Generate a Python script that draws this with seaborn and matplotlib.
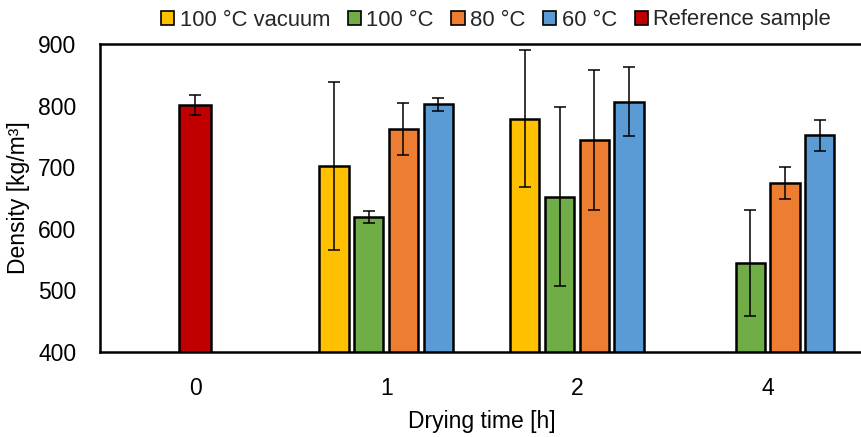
import matplotlib
matplotlib.use("Agg")
import matplotlib.pyplot as plt
from matplotlib.patches import Patch
from matplotlib import font_manager
import seaborn as sns
import pandas as pd
import numpy as np

# ---- data ----
times = ["0", "1", "2", "4"]
series = ["100 °C vacuum", "100 °C", "80 °C", "60 °C"]
series_colors = ["#FFC000", "#70AD47", "#ED7D31", "#5B9BD5"]

vacuum_100_mean = [np.nan, 702, 779, np.nan]
vacuum_100_err = [np.nan, 137, 111, np.nan]
temp_100_mean = [np.nan, 619, 652, 545]
temp_100_err = [np.nan, 10, 145, 86]
temp_80_mean = [np.nan, 762, 744, 675]
temp_80_err = [np.nan, 43, 114, 26]
temp_60_mean = [np.nan, 802, 806, 752]
temp_60_err = [np.nan, 11, 56, 25]

ref_label = "Reference sample"
ref_color = "#C00000"
ref_time = ["0"]
ref_mean = [801]
ref_err = [17]

y_ticks = [400, 500, 600, 700, 800, 900]

# ---- styling ----
sns.set_theme(style="white")
avail = {f.name for f in font_manager.fontManager.ttflist}
fams = [f for f in ["Liberation Sans Narrow", "Liberation Sans", "DejaVu Sans"] if f in avail]
plt.rcParams["font.family"] = fams
FS = 16.5
FS_LEG = 15.8

means = [vacuum_100_mean, temp_100_mean, temp_80_mean, temp_60_mean]
errs = [vacuum_100_err, temp_100_err, temp_80_err, temp_60_err]
rows = []
for s, m, e in zip(series, means, errs):
    for t, mv, ev in zip(times, m, e):
        if not np.isnan(mv):
            rows.append({"time": t, "series": s, "density": mv, "err": ev})
df = pd.DataFrame(rows)
ref_df = pd.DataFrame({"time": ref_time, "density": ref_mean, "err": ref_err})

fig = plt.figure(figsize=(8.61, 4.37), dpi=100)
ax = fig.add_axes([100 / 861, (437 - 352) / 437, 763 / 861, 308 / 437])

sns.barplot(data=df, x="time", y="density", hue="series", order=times,
            hue_order=series, palette=series_colors, width=0.728, gap=0.155,
            edgecolor="black", linewidth=1.8, errorbar=None, saturation=1,
            legend=False, ax=ax)
sns.barplot(data=ref_df, x="time", y="density", order=times, color=ref_color,
            width=0.168, edgecolor="black", linewidth=1.8, errorbar=None,
            saturation=1, ax=ax)

# error bars at the bar centres drawn by seaborn
lookup = [(r.density, r.err) for r in df.itertuples()] + \
         [(r.density, r.err) for r in ref_df.itertuples()]
for p in ax.patches:
    h = p.get_height()
    if np.isnan(h) or h == 0:
        continue
    for v, e in lookup:
        if abs(v - h) < 1e-6:
            ax.errorbar(p.get_x() + p.get_width() / 2, h, yerr=e, fmt="none",
                        ecolor="black", elinewidth=1.1, capsize=4.3,
                        capthick=1.1, zorder=5)
            break

ax.set_ylim(400, 900)
ax.set_xlim(-0.5, 3.5)
ax.set_yticks(y_ticks)
ax.set_yticklabels([str(v) for v in y_ticks], fontsize=FS)
ax.set_xticks(range(len(times)))
ax.set_xticklabels(times, fontsize=FS)
ax.tick_params(axis="both", length=0, colors="black")
ax.tick_params(axis="y", pad=17)
ax.tick_params(axis="x", pad=18)
ax.set_xlabel("Drying time [h]", fontsize=FS, color="black", labelpad=7)
ax.set_ylabel("Density [kg/m³]", fontsize=FS, color="black", va="center")
ax.yaxis.set_label_coords((19 - 100) / 763, 0.5)
for side in ["left", "top", "bottom"]:
    ax.spines[side].set_color("black")
    ax.spines[side].set_linewidth(1.8)
ax.spines["right"].set_visible(False)
ax.grid(False)

handles = [Patch(facecolor=c, edgecolor="black", linewidth=1.2)
           for c in series_colors + [ref_color]]
labels = series + [ref_label]
fig.legend(handles, labels, loc="center", bbox_to_anchor=(496 / 861, 1 - 20 / 437),
           ncol=5, frameon=False, fontsize=FS_LEG, handlelength=0.6,
           handleheight=0.6, handletextpad=0.25, columnspacing=0.8,
           borderaxespad=0)

fig.savefig("out.png", dpi=100)
